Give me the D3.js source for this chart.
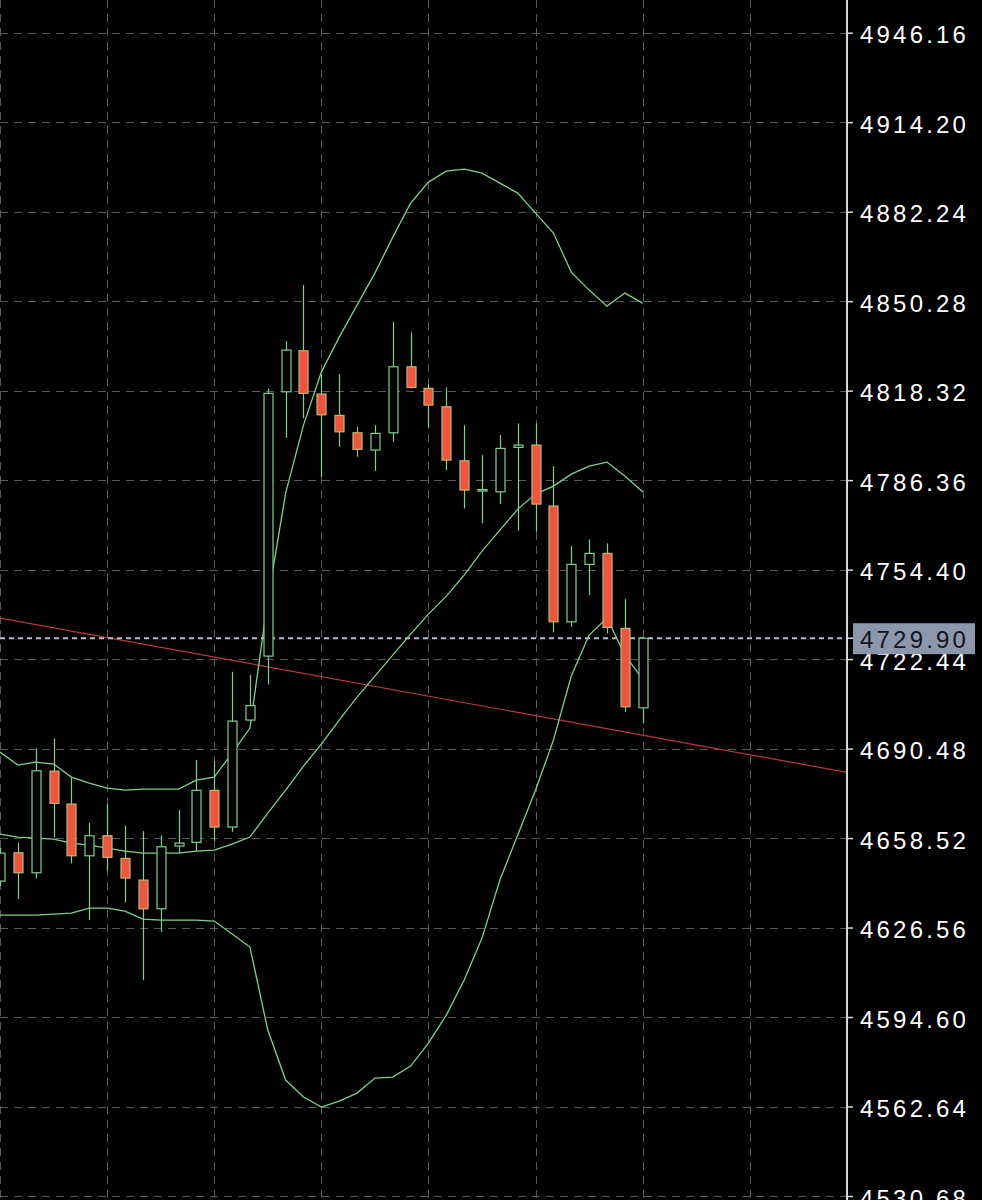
<!DOCTYPE html>
<html><head><meta charset="utf-8">
<script src="https://cdn.jsdelivr.net/npm/d3@7"></script>
<style>html,body{margin:0;padding:0;background:#000;} svg{display:block}</style>
</head><body>
<script>
// ---- data (candle index = category) ----
const candleIdx = [0,1,2,3,4,5,6,7,8,9,10,11,12,13,14,15,16,17,18,19,20,21,22,23,24,25,26,27,28,29,30,31,32,33,34,35,36];
const openP  = [4643.16,4653.26,4646.12,4682.44,4670.66,4652.19,4659.34,4651.26,4643.51,4633.26,4655.66,4656.98,4675.55,4662.44,4700.66,4723.51,4817.91,4832.55,4817.09,4809.48,4803.26,4797.09,4803.26,4826.84,4819.12,4812.55,4793.26,4782.60,4782.19,4798.05,4798.87,4777.09,4735.76,4756.26,4760.19,4733.41,4705.05];
const highP  = [4654.94,4656.84,4690.55,4694.12,4680.19,4663.98,4670.66,4662.91,4661.01,4659.48,4668.51,4686.37,4686.01,4717.91,4716.73,4819.12,4836.01,4856.01,4824.23,4824.23,4805.41,4806.01,4842.91,4839.12,4820.55,4819.48,4806.01,4795.30,4802.44,4806.62,4806.62,4791.37,4762.80,4765.19,4763.76,4743.87,4729.90];
const lowP   = [4641.37,4636.73,4644.12,4658.76,4649.48,4629.23,4646.84,4635.55,4607.80,4625.05,4653.05,4653.98,4657.55,4660.76,4700.40,4713.41,4801.48,4808.41,4787.55,4798.26,4794.69,4789.69,4800.05,4819.12,4804.84,4789.94,4776.26,4770.91,4777.80,4768.26,4767.91,4731.98,4733.98,4745.30,4731.62,4703.62,4699.48];
const closeP = [4653.16,4646.12,4682.55,4670.91,4652.19,4659.34,4651.62,4644.23,4633.26,4655.41,4656.73,4675.55,4662.44,4700.30,4705.84,4817.34,4832.80,4817.34,4809.69,4803.62,4797.34,4803.05,4826.84,4819.48,4813.16,4793.51,4782.80,4783.00,4797.69,4798.87,4777.80,4735.76,4756.26,4760.19,4733.76,4705.41,4729.90];
const bbUpper  = [4689.23,4684.59,4685.66,4684.94,4680.30,4678.16,4676.37,4675.66,4676.01,4676.01,4676.01,4679.23,4680.30,4688.87,4697.80,4743.51,4781.73,4806.01,4824.94,4837.44,4848.87,4860.30,4873.16,4885.30,4892.80,4896.73,4897.44,4896.01,4892.44,4888.87,4881.73,4874.59,4860.66,4854.23,4848.51,4853.16,4849.59];
const bbMiddle = [4659.94,4658.87,4658.51,4658.16,4656.73,4656.01,4654.94,4653.87,4653.16,4653.16,4653.16,4653.87,4654.23,4656.37,4658.87,4667.44,4675.66,4684.23,4692.09,4700.66,4708.87,4716.37,4723.87,4731.37,4738.51,4744.94,4752.44,4761.01,4768.51,4776.01,4781.37,4784.23,4788.51,4791.37,4792.80,4787.80,4782.09];
const bbLower  = [4631.01,4631.01,4631.01,4631.37,4631.73,4633.51,4633.51,4632.44,4629.59,4629.23,4629.23,4629.23,4628.87,4624.23,4619.59,4589.94,4572.09,4566.01,4562.44,4564.59,4567.44,4572.80,4573.16,4577.09,4585.30,4595.30,4607.80,4622.80,4643.51,4659.59,4675.66,4693.51,4716.37,4731.01,4737.09,4723.87,4715.30];
const yTicks = [4946.16,4914.20,4882.24,4850.28,4818.32,4786.36,4754.40,4722.44,4690.48,4658.52,4626.56,4594.60,4562.64,4530.68];
const xGridIdx = [0,6,12,18,24,30,36,42];
const lastPrice = 4729.90;
const trendIdx = [0, 47.5];
const trendPrice = [4737.1, 4681.9];

// ---- layout ----
const W = 982, H = 1200, axisX = 847;
const GREEN = "#80cf8e";
const x = d3.scaleLinear().domain([0, 47.5]).range([0, 848]);
const y = d3.scaleLinear().domain([4530.68, 4946.16]).range([1196, 32.7]);
const crisp = v => Math.round(v) + 0.5;

const svg = d3.select("body").append("svg").attr("width", W).attr("height", H)
  .style("background", "#000");

svg.append("defs").append("clipPath").attr("id", "plot")
  .append("rect").attr("x", 0).attr("y", 0).attr("width", axisX).attr("height", H);

const plot = svg.append("g").attr("clip-path", "url(#plot)");

// grid
plot.append("g").selectAll("line").data(yTicks).join("line")
  .attr("x1", 0).attr("x2", axisX)
  .attr("y1", d => crisp(y(d))).attr("y2", d => crisp(y(d)))
  .attr("stroke", "#5a5a5a").attr("stroke-width", 1).attr("stroke-dasharray", "8,6");
plot.append("g").selectAll("line").data(xGridIdx).join("line")
  .attr("y1", 0).attr("y2", H)
  .attr("x1", d => crisp(x(d))).attr("x2", d => crisp(x(d)))
  .attr("stroke", "#5a5a5a").attr("stroke-width", 1).attr("stroke-dasharray", "8,6");

// trend line
plot.append("line")
  .attr("x1", x(trendIdx[0])).attr("y1", y(trendPrice[0]))
  .attr("x2", x(trendIdx[1])).attr("y2", y(trendPrice[1]))
  .attr("stroke", "#b8393c").attr("stroke-width", 1.2);

// current price dashed line
plot.append("line")
  .attr("x1", 0).attr("x2", axisX)
  .attr("y1", y(lastPrice)).attr("y2", y(lastPrice))
  .attr("stroke", "#b9bdd6").attr("stroke-width", 2).attr("stroke-dasharray", "5,4");

// bollinger bands
const bandLine = arr => d3.line().x((d, i) => x(candleIdx[i])).y(d => y(d))(arr);
[bbUpper, bbMiddle, bbLower].forEach(arr => {
  plot.append("path").attr("d", bandLine(arr))
    .attr("fill", "none").attr("stroke", GREEN).attr("stroke-width", 1.3);
});

// candles
const cdata = candleIdx.map((c, i) => ({c, o: openP[i], h: highP[i], l: lowP[i], cl: closeP[i]}));
const bw = 9;
const cg = plot.append("g").selectAll("g").data(cdata).join("g");
cg.append("line")
  .attr("x1", d => crisp(x(d.c))).attr("x2", d => crisp(x(d.c)))
  .attr("y1", d => y(d.h)).attr("y2", d => y(d.l))
  .attr("stroke", GREEN).attr("stroke-width", 1.2);
cg.append("rect")
  .attr("x", d => crisp(x(d.c)) - bw / 2)
  .attr("width", bw)
  .attr("y", d => y(Math.max(d.o, d.cl)))
  .attr("height", d => Math.max(1.5, Math.abs(y(d.o) - y(d.cl))))
  .attr("fill", d => d.cl >= d.o ? "#000" : "#ec5640")
  .attr("stroke", d => d.cl >= d.o ? GREEN : "#c9b36c")
  .attr("stroke-width", 1.2);

// axis
svg.append("line").attr("x1", axisX).attr("x2", axisX).attr("y1", 0).attr("y2", H)
  .attr("stroke", "#d8d8d8").attr("stroke-width", 2);

const axis = d3.axisRight(y).tickValues(yTicks).tickFormat(d3.format(".2f"))
  .tickSize(6).tickPadding(7);
const ag = svg.append("g").attr("transform", `translate(${axisX},0)`).call(axis);
ag.select(".domain").remove();
ag.selectAll(".tick line").attr("stroke", "#d8d8d8").attr("stroke-width", 1.5);
ag.selectAll(".tick text")
  .attr("fill", "#ffffff").attr("dy", "0.42em")
  .style("font-family", "'Liberation Sans', Arial, sans-serif")
  .style("font-size", "24px").style("letter-spacing", "3.2px");

// last price label
const ly = y(lastPrice);
svg.append("line").attr("x1", axisX).attr("x2", axisX + 6).attr("y1", ly).attr("y2", ly)
  .attr("stroke", "#d8d8d8").attr("stroke-width", 1.5);
svg.append("rect").attr("x", 853).attr("y", ly - 15).attr("width", 122).attr("height", 31)
  .attr("fill", "#8b97aa");
svg.append("text").attr("x", 860).attr("y", ly + 10)
  .attr("fill", "#15151f")
  .style("font-family", "'Liberation Sans', Arial, sans-serif")
  .style("font-size", "24px").style("letter-spacing", "3.2px")
  .text(d3.format(".2f")(lastPrice));
</script>
</body></html>
